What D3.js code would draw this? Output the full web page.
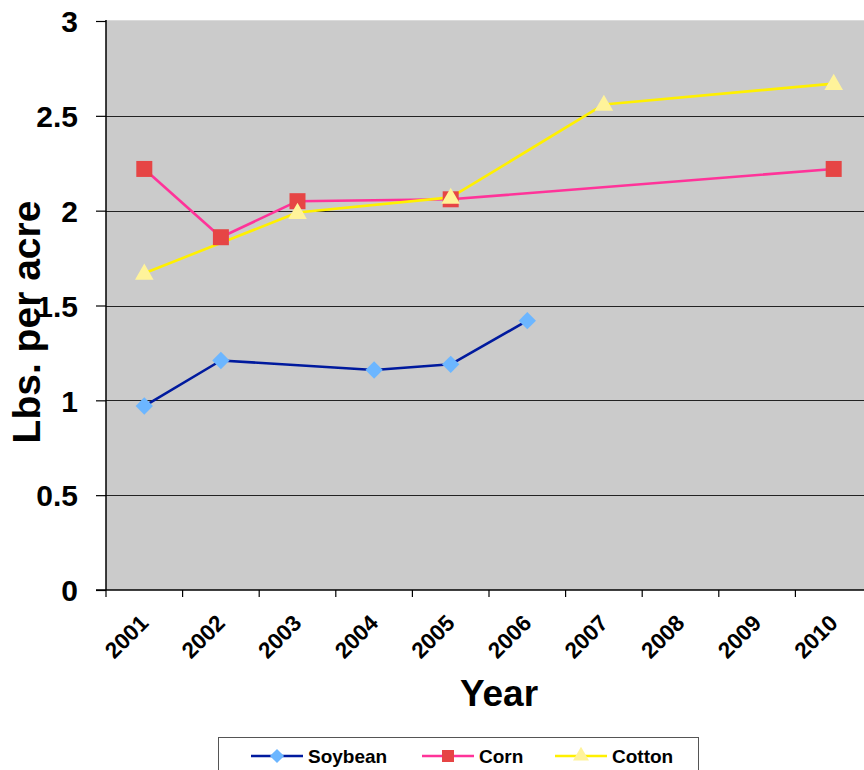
<!DOCTYPE html>
<html>
<head>
<meta charset="utf-8">
<script src="https://cdn.jsdelivr.net/npm/d3@7"></script>
<style>
  html, body { margin: 0; padding: 0; background: #fff; overflow: hidden; }
  svg { display: block; font-family: "Liberation Sans", Arial, sans-serif; font-weight: bold; }
</style>
</head>
<body>
<svg id="chart" width="864" height="770"></svg>
<script>
// Application rates by year (null = no survey that year)
const years = ["2001","2002","2003","2004","2005","2006","2007","2008","2009","2010"];
const soybean = [0.97, 1.21, null, 1.16, 1.19, 1.42, null, null, null, null];
const corn    = [2.22, 1.86, 2.05, null, 2.06, null, null, null, null, 2.22];
const cotton  = [1.67, null, 1.99, null, 2.07, null, 2.56, null, null, 2.67];
const yTicks  = [0, 0.5, 1, 1.5, 2, 2.5, 3];
const seriesNames = ["Soybean", "Corn", "Cotton"];

const series = [
  { name: seriesNames[0], values: soybean, line: "#001A9E", fill: "#6CB6FF", shape: "diamond" },
  { name: seriesNames[1], values: corn,    line: "#FF3399", fill: "#E64545", shape: "square" },
  { name: seriesNames[2], values: cotton,  line: "#FFF000", fill: "#FFF39A", shape: "triangle" }
];

const svg = d3.select("#chart");
const plot = { left: 106, top: 21, right: 872, bottom: 590 };

const x = d3.scaleBand().domain(years).range([plot.left, plot.right]);
const y = d3.scaleLinear().domain([0, 3]).range([plot.bottom, plot.top]);

// plot background
svg.append("rect")
  .attr("x", plot.left).attr("y", plot.top - 1)
  .attr("width", plot.right - plot.left).attr("height", plot.bottom - plot.top + 1)
  .attr("fill", "#CBCBCB");
svg.append("line")
  .attr("x1", plot.left).attr("x2", plot.right)
  .attr("y1", plot.top - 0.5).attr("y2", plot.top - 0.5)
  .attr("stroke", "#DADADA").attr("stroke-width", 1);

// horizontal gridlines
svg.append("g")
  .selectAll("line")
  .data(yTicks.filter(d => d > 0 && d < 3))
  .join("line")
  .attr("x1", plot.left).attr("x2", plot.right)
  .attr("y1", d => Math.round(y(d)) + 0.5).attr("y2", d => Math.round(y(d)) + 0.5)
  .attr("stroke", "#222").attr("stroke-width", 1.2);

// y axis
const yAxis = svg.append("g")
  .attr("transform", `translate(${plot.left},0)`)
  .call(d3.axisLeft(y).tickValues(yTicks).tickSize(10).tickPadding(18)
        .tickFormat(d => d3.format("")(d)));
yAxis.select(".domain").attr("stroke", "#000").attr("stroke-width", 1.5).attr("d", `M0,${plot.top - 1}V${plot.bottom}`);
yAxis.selectAll(".tick line").attr("stroke", "#000").attr("stroke-width", 1.2);
yAxis.selectAll(".tick text")
  .attr("font-size", 30).attr("font-weight", "bold").attr("fill", "#000")
  .attr("font-family", "Liberation Sans, Arial, sans-serif").attr("dy", "0.36em");

// x axis: ticks sit on category boundaries
const xAxis = svg.append("g").attr("transform", `translate(0,${plot.bottom})`);
xAxis.append("line")
  .attr("x1", plot.left - 10).attr("x2", plot.right)
  .attr("y1", 0).attr("y2", 0)
  .attr("stroke", "#000").attr("stroke-width", 1.5);
xAxis.selectAll("line.tick")
  .data(years)
  .join("line").attr("class", "tick")
  .attr("x1", d => x(d)).attr("x2", d => x(d))
  .attr("y1", 0).attr("y2", 7)
  .attr("stroke", "#000").attr("stroke-width", 1.2);
xAxis.selectAll("text")
  .data(years)
  .join("text")
  .attr("transform", d => `translate(${x(d) + x.bandwidth() / 2 - 6},${23}) rotate(-45)`)
  .attr("text-anchor", "end")
  .attr("dy", "0.72em")
  .attr("font-size", 22.5)
  .attr("fill", "#000")
  .text(d => d);

// axis titles
svg.append("text")
  .attr("x", 499).attr("y", 706)
  .attr("text-anchor", "middle")
  .attr("font-size", 37)
  .text("Year");
svg.append("text")
  .attr("transform", "translate(40,322) rotate(-90)")
  .attr("text-anchor", "middle")
  .attr("font-size", 39)
  .text("Lbs. per acre");

// marker shapes
const symbolFor = {
  diamond: d3.symbol().type(d3.symbolSquare).size(150),
  square: d3.symbol().type(d3.symbolSquare).size(256),
  triangle: d3.symbol().type(d3.symbolTriangle).size(150)
};
function drawMarker(g, shape, fill) {
  const p = g.append("path").attr("d", symbolFor[shape]()).attr("fill", fill);
  if (shape === "diamond") p.attr("transform", "rotate(45)");
  return p;
}

const lineGen = d3.line()
  .x(d => x(d.year) + x.bandwidth() / 2)
  .y(d => y(d.value));

series.forEach(s => {
  const pts = years.map((yr, i) => ({ year: yr, value: s.values[i] }))
    .filter(d => d.value !== null);
  svg.append("path")
    .datum(pts)
    .attr("d", lineGen)
    .attr("fill", "none")
    .attr("stroke", s.line)
    .attr("stroke-width", 2.6)
    .attr("stroke-linejoin", "round");
  s.pts = pts;
});

series.forEach(s => {
  s.pts.forEach(d => {
    const g = svg.append("g")
      .attr("transform", `translate(${x(d.year) + x.bandwidth() / 2},${y(d.value) + (s.shape === "triangle" ? 1 : 0)})`);
    drawMarker(g, s.shape, s.fill);
  });
});

// legend
const legend = svg.append("g");
legend.append("rect")
  .attr("x", 218.5).attr("y", 737.5)
  .attr("width", 480).attr("height", 60)
  .attr("fill", "#fff").attr("stroke", "#555").attr("stroke-width", 1);
const legendX = [251, 422, 555];
series.forEach((s, i) => {
  const lx = legendX[i];
  const g = legend.append("g").attr("transform", `translate(${lx},756)`);
  g.append("line").attr("x1", 0).attr("x2", 52).attr("y1", 0).attr("y2", 0)
    .attr("stroke", s.line).attr("stroke-width", 2.6);
  const m = g.append("g").attr("transform", "translate(26,0)");
  const p = m.append("path").attr("fill", s.fill);
  if (s.shape === "diamond") p.attr("d", d3.symbol().type(d3.symbolSquare).size(100)()).attr("transform", "rotate(45)");
  else if (s.shape === "square") p.attr("d", d3.symbol().type(d3.symbolSquare).size(144)());
  else p.attr("d", d3.symbol().type(d3.symbolTriangle).size(110)());
  g.append("text")
    .attr("x", 57).attr("y", 0).attr("dy", "0.36em")
    .attr("font-size", 19)
    .text(s.name);
});
</script>
</body>
</html>
